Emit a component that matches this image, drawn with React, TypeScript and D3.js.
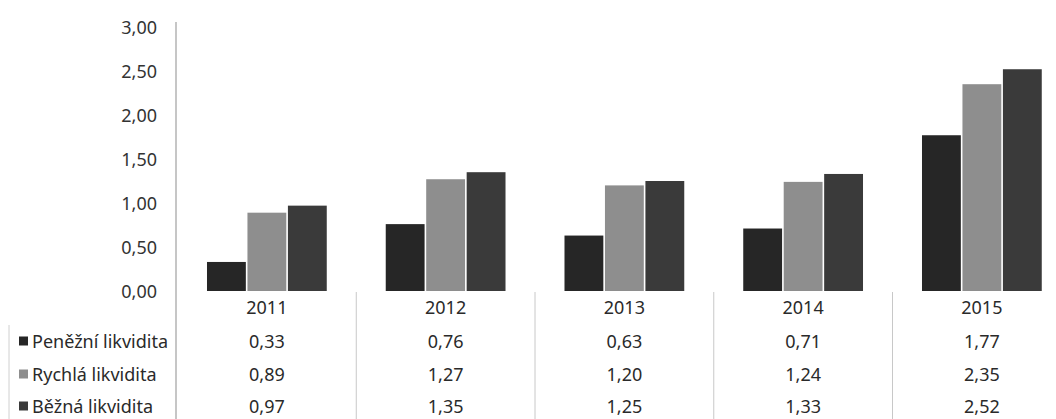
import React from "react";
import * as d3 from "d3";

const years = ["2011", "2012", "2013", "2014", "2015"];
const seriesNames = ["Peněžní likvidita", "Rychlá likvidita", "Běžná likvidita"];
const penezni = [0.33, 0.76, 0.63, 0.71, 1.77];
const rychla = [0.89, 1.27, 1.2, 1.24, 2.35];
const bezna = [0.97, 1.35, 1.25, 1.33, 2.52];
const yTicks = [0, 0.5, 1, 1.5, 2, 2.5, 3];
const seriesColors = ["#262626", "#8e8e8e", "#3a3a3a"];

const W = 1056;
const H = 419;
const FONT = "'Noto Sans', sans-serif";

export default function App() {
  const seriesValues = [penezni, rychla, bezna];
  const x = d3.scaleBand<string>().domain(years).range([177.5, 1071.25]).padding(0);
  const step = x.bandwidth();
  const xSub = d3
    .scaleBand<string>()
    .domain(seriesNames)
    .range([step * 0.165, step * 0.835])
    .paddingInner(0.04);
  const y = d3.scaleLinear().domain([0, 3]).range([291, 27]);
  const fmt = (v: number) => d3.format(".2f")(v).replace(".", ",");
  const axisX = 176;
  const rowY = [307, 341, 374, 406];

  return (
    <svg width={W} height={H} style={{ position: "absolute", left: 0, top: 0, background: "#fff" }}>
      <rect width={W} height={H} fill="#fff" />
      {/* y axis line */}
      <line x1={axisX} x2={axisX} y1={22} y2={H} stroke="#a0a0a0" strokeWidth={1.2} />
      {/* table vertical lines */}
      {years.slice(1).map((yr) => (
        <line key={yr} x1={x(yr)!} x2={x(yr)!} y1={292} y2={H} stroke="#c8c8c8" strokeWidth={1} />
      ))}
      <line x1={9} x2={9} y1={325} y2={H} stroke="#d0d0d0" strokeWidth={1} />
      {/* y tick labels */}
      {yTicks.map((t) => (
        <text
          key={t}
          x={157}
          y={y(t)}
          textAnchor="end"
          dominantBaseline="central"
          fontFamily={FONT}
          fontSize={18}
          fill="#333"
        >
          {fmt(t)}
        </text>
      ))}
      {/* bars */}
      {years.map((yr, i) => (
        <g key={yr} transform={`translate(${x(yr)},0)`}>
          {seriesNames.map((s, j) => (
            <rect
              key={s}
              x={xSub(s)!}
              y={y(seriesValues[j][i])}
              width={xSub.bandwidth()}
              height={y(0) - y(seriesValues[j][i])}
              fill={seriesColors[j]}
            />
          ))}
        </g>
      ))}
      {/* year labels */}
      {years.map((yr) => (
        <text
          key={yr}
          x={x(yr)! + step / 2}
          y={rowY[0]}
          textAnchor="middle"
          dominantBaseline="central"
          fontFamily={FONT}
          fontSize={18}
          fill="#2a2a2a"
        >
          {yr}
        </text>
      ))}
      {/* data table rows */}
      {seriesNames.map((s, j) => (
        <g key={s}>
          <rect x={19} y={rowY[j + 1] - 4.5} width={9} height={9} fill={seriesColors[j]} />
          <text
            x={32}
            y={rowY[j + 1]}
            dominantBaseline="central"
            fontFamily={FONT}
            fontSize={18}
            fill="#2a2a2a"
          >
            {s}
          </text>
          {years.map((yr, i) => (
            <text
              key={yr}
              x={x(yr)! + step / 2}
              y={rowY[j + 1]}
              textAnchor="middle"
              dominantBaseline="central"
              fontFamily={FONT}
              fontSize={18}
              fill="#2a2a2a"
            >
              {fmt(seriesValues[j][i])}
            </text>
          ))}
        </g>
      ))}
    </svg>
  );
}
